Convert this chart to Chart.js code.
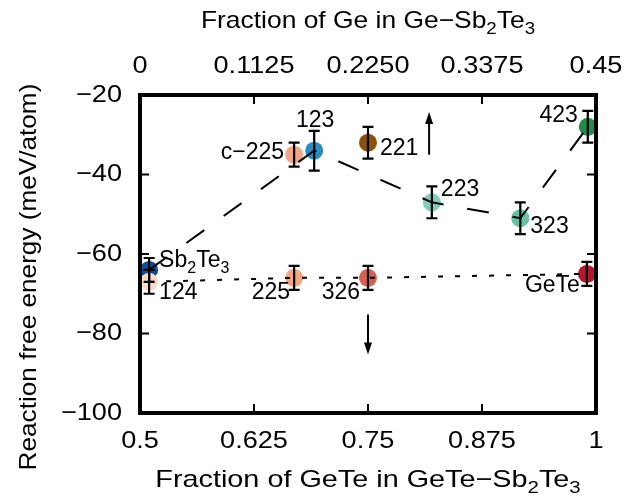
<!DOCTYPE html>
<html>
<head>
<meta charset="utf-8">
<script src="https://cdn.jsdelivr.net/npm/chart.js@4.4.1/dist/chart.umd.min.js"></script>
<style>
  html, body { margin: 0; padding: 0; background: #fff; }
  canvas { display: block; }
</style>
</head>
<body>
<canvas id="chart" width="636" height="499"></canvas>
<script>
// points: GeTe fraction, energy (meV/atom), error bar half-width
const names     = ['Sb2Te3', '124', 'c-225', '123', '225', '326', '221', '223', '323', '423', 'GeTe'];
const fracGeTe  = [0.51, 0.51, 0.669, 0.691, 0.669, 0.75, 0.75, 0.82, 0.917, 0.991, 0.99];
const energy    = [-64, -67, -35, -34, -66, -66, -32, -47, -51, -28, -65];
const errLow    = [3, 3, 3, 5, 3, 3, 4, 4, 4, 4, 3];
const errHigh   = [3, 3, 3, 5, 3, 3, 4, 4, 4, 4, 3];
const colors    = ['#0b4f96', '#fcdcc8', '#f4a582', '#2b8cc4', '#f4a582', '#d6604d',
                   '#8c510a', '#80cdc1', '#66c2a4', '#238b45', '#b2182b'];

// dashed path (Ge-rich branch) and dotted path (GeTe-Sb2Te3 tie line)
const dashedPath = ['Sb2Te3', '123', '223', '323', '423'];
const dottedPath = ['124', '225', '326', 'GeTe'];

// arrows: x, from y, to y
const arrows = [
  { x: 0.817, from: -35, to: -24.3 },
  { x: 0.75,  from: -75.2, to: -85.3 }
];

const bottomTicks = [0.5, 0.625, 0.75, 0.875, 1];
const bottomTickLabels = ['0.5', '0.625', '0.75', '0.875', '1'];
const topTicks = [0, 0.1125, 0.225, 0.3375, 0.45];
const topTickLabels = ['0', '0.1125', '0.2250', '0.3375', '0.45'];
const yTicks = [-100, -80, -60, -40, -20];
const yTickLabels = ['\u2212100', '\u221280', '\u221260', '\u221240', '\u221220'];

// label placement relative to each point (pixels)
const labelStyle = {
  'Sb2Te3': { dx: 10, dy: -9, align: 'left', rich: [['Sb'], ['2', 1], ['Te'], ['3', 1]] },
  '124':    { dx: 10, dy: 11, align: 'left' },
  'c-225':  { dx: -10, dy: -2, align: 'right', rich: [['c\u2212225']] },
  '123':    { dx: 1, dy: -30, align: 'center' },
  '225':    { dx: -4, dy: 15, align: 'right' },
  '326':    { dx: -8, dy: 15, align: 'right' },
  '221':    { dx: 12, dy: 6, align: 'left' },
  '223':    { dx: 9, dy: -13, align: 'left' },
  '323':    { dx: 10, dy: 8, align: 'left' },
  '423':    { dx: -10, dy: -11, align: 'right' },
  'GeTe':   { dx: -7, dy: 12, align: 'right' }
};

const FONT = '"Liberation Sans", Arial, sans-serif';

function pt(name) {
  const i = names.indexOf(name);
  return { x: fracGeTe[i], y: energy[i] };
}

// text with optional subscripts, stretched horizontally by sx
function drawRich(ctx, parts, x, y, align, size, sx) {
  size = size || 24;
  sx = sx || 1;
  const sub = Math.round(size * 0.7);
  let w = 0;
  parts.forEach(p => {
    ctx.font = (p[1] ? sub : size) + 'px ' + FONT;
    w += ctx.measureText(p[0]).width;
  });
  ctx.save();
  ctx.translate(x, y);
  ctx.scale(sx, 1);
  let cx = align === 'center' ? -w / 2 : align === 'right' ? -w : 0;
  ctx.textAlign = 'left';
  ctx.textBaseline = 'middle';
  parts.forEach(p => {
    ctx.font = (p[1] ? sub : size) + 'px ' + FONT;
    ctx.fillText(p[0], cx, p[1] ? size * 0.33 : 0);
    cx += ctx.measureText(p[0]).width;
  });
  ctx.restore();
}

const decorPlugin = {
  id: 'decor',
  afterDatasetsDraw(chart) {
    const ctx = chart.ctx;
    const xs = chart.scales.x, ys = chart.scales.y;
    ctx.save();
    ctx.fillStyle = '#000';
    ctx.strokeStyle = '#000';

    // error bars
    ctx.lineWidth = 2.2;
    names.forEach((n, i) => {
      const px = xs.getPixelForValue(fracGeTe[i]);
      const y1 = ys.getPixelForValue(energy[i] + errHigh[i]);
      const y2 = ys.getPixelForValue(energy[i] - errLow[i]);
      ctx.beginPath();
      ctx.moveTo(px, y1); ctx.lineTo(px, y2);
      ctx.moveTo(px - 5.5, y1); ctx.lineTo(px + 5.5, y1);
      ctx.moveTo(px - 5.5, y2); ctx.lineTo(px + 5.5, y2);
      ctx.stroke();
    });

    // arrows
    ctx.lineWidth = 2;
    arrows.forEach(a => {
      const px = xs.getPixelForValue(a.x);
      const p0 = ys.getPixelForValue(a.from);
      const p1 = ys.getPixelForValue(a.to);
      const dir = p1 < p0 ? -1 : 1;
      ctx.beginPath();
      ctx.moveTo(px, p0); ctx.lineTo(px, p1 - dir * 8);
      ctx.stroke();
      ctx.beginPath();
      ctx.moveTo(px, p1);
      ctx.lineTo(px - 4, p1 - dir * 12);
      ctx.lineTo(px + 4, p1 - dir * 12);
      ctx.closePath();
      ctx.fill();
    });

    // point labels
    names.forEach((n, i) => {
      const s = labelStyle[n];
      const px = xs.getPixelForValue(fracGeTe[i]) + s.dx;
      const py = ys.getPixelForValue(energy[i]) + s.dy;
      drawRich(ctx, s.rich || [[n]], px, py, s.align, 23, 1);
    });
    ctx.restore();
  },
  afterDraw(chart) {
    const ctx = chart.ctx;
    const a = chart.chartArea;
    const xs = chart.scales.x, x2 = chart.scales.x2, ys = chart.scales.y;
    ctx.save();
    ctx.strokeStyle = '#000';
    ctx.fillStyle = '#000';

    // inward ticks
    ctx.lineWidth = 2;
    ctx.beginPath();
    bottomTicks.slice(1, -1).forEach(v => {
      const p = xs.getPixelForValue(v);
      ctx.moveTo(p, a.bottom); ctx.lineTo(p, a.bottom - 9);
    });
    topTicks.slice(1, -1).forEach(v => {
      const p = x2.getPixelForValue(v);
      ctx.moveTo(p, a.top); ctx.lineTo(p, a.top + 9);
    });
    yTicks.slice(1, -1).forEach(v => {
      const p = ys.getPixelForValue(v);
      ctx.moveTo(a.left, p); ctx.lineTo(a.left + 9, p);
      ctx.moveTo(a.right, p); ctx.lineTo(a.right - 9, p);
    });
    ctx.stroke();

    // frame
    ctx.lineWidth = 4;
    ctx.strokeRect(a.left, a.top, a.right - a.left, a.bottom - a.top);

    // tick labels, placed from the library's scales
    xs.ticks.forEach((t, i) => {
      drawRich(ctx, [[bottomTickLabels[i]]], xs.getPixelForValue(t.value), a.bottom + 28, 'center', 24, 1.13);
    });
    x2.ticks.forEach((t, i) => {
      drawRich(ctx, [[topTickLabels[i]]], x2.getPixelForValue(t.value), a.top - 29, 'center', 24, 1.13);
    });
    ys.ticks.forEach((t, i) => {
      drawRich(ctx, [[yTickLabels[i]]], a.left - 18, ys.getPixelForValue(t.value), 'right', 24, 1.13);
    });

    // axis titles
    const cx = (a.left + a.right) / 2;
    drawRich(ctx, [['Fraction of GeTe in GeTe\u2212Sb'], ['2', 1], ['Te'], ['3', 1]], cx, 480, 'center', 24, 1.2);
    drawRich(ctx, [['Fraction of Ge in Ge\u2212Sb'], ['2', 1], ['Te'], ['3', 1]], cx, 21, 'center', 24, 1.1);
    ctx.translate(29, 277);
    ctx.rotate(-Math.PI / 2);
    drawRich(ctx, [['Reaction free energy (meV/atom)']], 0, 0, 'center', 24, 1.09);
    ctx.restore();
  }
};

new Chart(document.getElementById('chart').getContext('2d'), {
  type: 'scatter',
  data: {
    datasets: [
      {
        type: 'line',
        data: dashedPath.map(pt),
        borderColor: '#000',
        borderWidth: 2,
        borderDash: [22, 24],
        pointRadius: 0,
        fill: false,
        order: 0
      },
      {
        type: 'line',
        data: dottedPath.map(pt),
        borderColor: '#000',
        borderWidth: 2,
        borderDash: [5, 12],
        pointRadius: 0,
        fill: false,
        order: 0
      },
      {
        data: names.map((n, i) => ({ x: fracGeTe[i], y: energy[i] })),
        backgroundColor: colors,
        borderWidth: 0,
        pointRadius: 9,
        pointHoverRadius: 9,
        order: 1
      }
    ]
  },
  options: {
    responsive: false,
    animation: false,
    devicePixelRatio: 1,
    layout: { padding: { right: 40, left: 0, top: 0, bottom: 0 } },
    plugins: { legend: { display: false }, tooltip: { enabled: false } },
    scales: {
      x: {
        type: 'linear', position: 'bottom', min: 0.5, max: 1,
        afterBuildTicks: s => { s.ticks = bottomTicks.map(v => ({ value: v })); },
        afterFit: s => { s.height = 86; },
        ticks: { display: false },
        grid: { display: false, drawTicks: false },
        border: { display: false }
      },
      x2: {
        type: 'linear', position: 'top', min: 0, max: 0.45,
        afterBuildTicks: s => { s.ticks = topTicks.map(v => ({ value: v })); },
        afterFit: s => { s.height = 95; },
        ticks: { display: false },
        grid: { display: false, drawTicks: false },
        border: { display: false }
      },
      y: {
        type: 'linear', position: 'left', min: -100, max: -20,
        afterBuildTicks: s => { s.ticks = yTicks.map(v => ({ value: v })); },
        afterFit: s => { s.width = 140; },
        ticks: { display: false },
        grid: { display: false, drawTicks: false },
        border: { display: false }
      }
    }
  },
  plugins: [decorPlugin]
});
</script>
</body>
</html>
